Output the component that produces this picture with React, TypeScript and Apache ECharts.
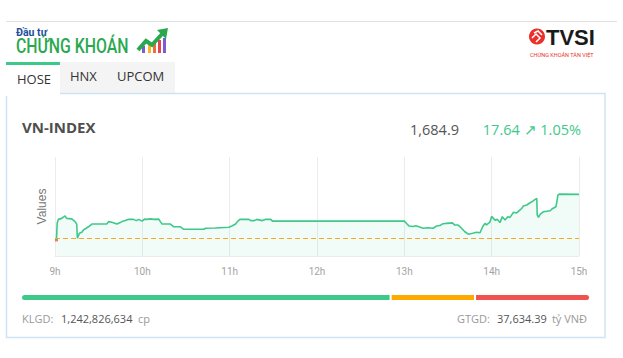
import React, { useEffect, useRef } from 'react';
import * as echarts from 'echarts';

const indexName = 'VN-INDEX';
const lastValueText = '1,684.9';
const changeText = '17.64 ↗ 1.05%';
const referenceValue = 1667.26;
const hourLabels = ['9h', '10h', '11h', '12h', '13h', '14h', '15h'];
const tabs = ['HOSE', 'HNX', 'UPCOM'];
const volumeText = '1,242,826,634';
const tradeValueText = '37,634.39';

// minutes since 9:00
const minutes = [
  1, 1.5, 2.3, 4.6, 6.9, 8, 11.5, 13.8, 14.9, 15.4, 16.8, 18.4, 19.5, 21.4, 23, 25.3, 30, 35.6, 36.8, 39.1,
  42.5, 44.8, 46, 48.3, 50.6, 54, 55.9, 57.5, 59.8, 61.4, 63.2, 65.5, 68, 71.3, 72.4, 73.6, 79.3, 81.6, 86.2,
  88.5, 95, 102.3, 103.4, 110, 119.5, 121.8, 124.1, 125.3, 127.1, 133.3, 134.5, 137, 138.6, 142.5, 144.8,
  148.3, 149.4, 150, 240,
  241.9, 243.4, 246, 248, 250, 252.9, 256, 259.8, 262, 264.4, 266, 269, 273, 274.7, 277, 279.3, 281.6, 284,
  286.9, 289.7, 292, 293.8, 295.4, 296.5, 298.8, 300, 302.3, 304, 305.7, 307.3, 309.2, 311, 312.6, 315,
  317.2, 319.5, 320.7, 321.8, 324.1, 326.4, 327.6, 329.9, 331, 331.3, 332.2, 333.3, 335.6, 340.2, 341.4,
  344.1, 344.8, 345.5, 346.4, 360,
];
const indexValues = [
  1666.5, 1673.3, 1674.8, 1675.2, 1676.2, 1675.2, 1675.0, 1673.9, 1672.9, 1667.2, 1669.2, 1669.6, 1670.5,
  1671.2, 1671.8, 1672.9, 1672.9, 1672.9, 1673.9, 1673.6, 1672.9, 1673.5, 1673.9, 1674.3, 1674.8, 1674.8,
  1674.3, 1674.8, 1674.1, 1674.9, 1674.8, 1675.0, 1674.8, 1674.9, 1673.9, 1672.9, 1672.9, 1671.8, 1671.8,
  1670.8, 1670.8, 1670.8, 1671.2, 1671.3, 1671.6, 1672.2, 1672.9, 1673.9, 1674.8, 1674.8, 1674.3, 1674.3,
  1674.8, 1674.3, 1674.8, 1674.8, 1674.1, 1674.1, 1674.1,
  1672.9, 1672.1, 1671.9, 1672.2, 1671.8, 1671.2, 1671.4, 1671.2, 1672.1, 1672.3, 1672.9, 1673.2, 1673.4,
  1672.5, 1672.5, 1671.2, 1669.8, 1668.8, 1669.2, 1669.6, 1669.4, 1671.8, 1673.2, 1672.6, 1673.7, 1676.0,
  1674.5, 1674.8, 1673.5, 1675.9, 1674.5, 1675.9, 1675.6, 1677.7, 1677.4, 1678.6, 1679.3, 1680.2, 1680.6,
  1681.5, 1681.9, 1682.9, 1683.3, 1676.6, 1675.6, 1676.8, 1677.9, 1678.3, 1679.0, 1679.9, 1681.9, 1684.6,
  1685.0, 1684.9,
];

const breadthLabels = ['Tăng', 'Tham chiếu', 'Giảm'];
const breadthCounts = [262, 60, 81];
const breadthColors = ['#3ec98a', '#ffaa00', '#f05252'];

const GREEN = '#3ec98a';
const FONT = '"Open Sans", "Noto Sans", sans-serif';

export default function App() {
  const ref = useRef<HTMLDivElement>(null);

  useEffect(() => {
    document.body.style.margin = '0';
    if (!ref.current) return;
    const chart = echarts.init(ref.current, undefined, { renderer: 'svg' });

    const total = breadthCounts.reduce((a, b) => a + b, 0);
    let acc = 0;
    const breadthData = breadthCounts.map((c, i) => {
      const item = { name: breadthLabels[i], value: [acc, acc + c, i] };
      acc += c;
      return item;
    });

    const graphic: any[] = [
      { type: 'line', shape: { x1: 6, y1: 21.5, x2: 617, y2: 21.5 }, style: { stroke: '#e2e2e2', lineWidth: 1 } },
      // Logo
      { type: 'text', x: 16, y: 32, style: { text: 'Đầu tư', fill: '#1d4f9c', font: `bold 10.5px Roboto`, verticalAlign: 'middle' } },
      { type: 'text', x: 16, y: 46, scaleX: 0.755, style: { text: 'CHỨNG KHOÁN', fill: '#2aa84f', font: `500 21px Roboto`, verticalAlign: 'middle' } },
      { type: 'rect', shape: { x: 142, y: 46, width: 3, height: 7 }, style: { fill: '#7d5bd0' } },
      { type: 'rect', shape: { x: 148, y: 44, width: 3, height: 9 }, style: { fill: '#f7b52c' } },
      { type: 'rect', shape: { x: 153, y: 42, width: 3, height: 11 }, style: { fill: '#f26b3a' } },
      { type: 'rect', shape: { x: 158, y: 40, width: 3, height: 13 }, style: { fill: '#e9434b' } },
      { type: 'rect', shape: { x: 163, y: 38, width: 3, height: 15 }, style: { fill: '#7d5bd0' } },
      { type: 'polyline', shape: { points: [[138, 50], [146, 41], [152, 45], [163, 33]] }, style: { stroke: '#2aa84f', lineWidth: 4, fill: null } },
      { type: 'polygon', shape: { points: [[157, 30], [168, 28], [166, 39]] }, style: { fill: '#2aa84f' } },
      // TVSI
      { type: 'circle', shape: { cx: 537, cy: 36.5, r: 8 }, style: { fill: '#e8312a' } },
      { type: 'polyline', shape: { points: [[532, 38], [536, 34], [540, 38], [536, 42]] }, style: { stroke: '#fff', lineWidth: 1.5, fill: null } },
      { type: 'polyline', shape: { points: [[534, 33], [538, 31], [542, 35]] }, style: { stroke: '#fff', lineWidth: 1.5, fill: null } },
      { type: 'text', x: 546, y: 37, style: { text: 'TVSI', fill: '#1a1a1a', font: `bold 22px "Liberation Sans"`, verticalAlign: 'middle' } },
      { type: 'text', x: 530, y: 55, style: { text: 'CHỨNG KHOÁN TÂN VIỆT', fill: '#e8312a', font: `5.5px Roboto`, verticalAlign: 'middle' } },
      // Tabs
      { type: 'rect', shape: { x: 60, y: 62, width: 115, height: 31 }, style: { fill: '#f4f4f4' } },
      { type: 'rect', shape: { x: 6, y: 62, width: 54, height: 3 }, style: { fill: GREEN } },
      { type: 'text', x: 17, y: 79, style: { text: tabs[0], fill: '#333', font: `13px ${FONT}`, verticalAlign: 'middle' } },
      { type: 'text', x: 70, y: 76, style: { text: tabs[1], fill: '#333', font: `13px ${FONT}`, verticalAlign: 'middle' } },
      { type: 'text', x: 117, y: 76, style: { text: tabs[2], fill: '#333', font: `13px ${FONT}`, verticalAlign: 'middle' } },
      // Card border
      { type: 'polyline', shape: { points: [[60, 93.5], [605, 93.5], [605, 337.5], [6.5, 337.5], [6.5, 96]] }, style: { stroke: '#cfe3f8', lineWidth: 1.5, fill: null } },
      // Header texts
      { type: 'text', x: 22, y: 127, style: { text: indexName, fill: '#4f4f4f', font: `bold 15px ${FONT}`, verticalAlign: 'middle' } },
      { type: 'text', x: 459, y: 129, style: { text: lastValueText, fill: '#555', font: `14.5px ${FONT}`, align: 'right', verticalAlign: 'middle' } },
      { type: 'text', x: 581, y: 129, style: { text: changeText, fill: GREEN, font: `14.5px ${FONT}`, align: 'right', verticalAlign: 'middle' } },
      // Footer texts
      { type: 'text', x: 22, y: 318, style: { text: 'KLGD:', fill: '#999', font: `11px ${FONT}`, verticalAlign: 'middle' } },
      { type: 'text', x: 61, y: 318, style: { text: volumeText, fill: '#555', font: `11px ${FONT}`, verticalAlign: 'middle' } },
      { type: 'text', x: 138, y: 318, style: { text: 'cp', fill: '#999', font: `11px ${FONT}`, verticalAlign: 'middle' } },
      { type: 'text', x: 457, y: 318, style: { text: 'GTGD:', fill: '#999', font: `11px ${FONT}`, verticalAlign: 'middle' } },
      { type: 'text', x: 497, y: 318, style: { text: tradeValueText, fill: '#555', font: `11px ${FONT}`, verticalAlign: 'middle' } },
      { type: 'text', x: 587, y: 318, style: { text: 'tỷ VNĐ', fill: '#999', font: `11px ${FONT}`, align: 'right', verticalAlign: 'middle' } },
    ];

    const option: any = {
      animation: false,
      backgroundColor: '#fff',
      graphic,
      grid: [
        { left: 55, right: 44, top: 157, bottom: 102 },
        { left: 22, width: 567, top: 295, height: 5 },
      ],
      xAxis: [
        {
          type: 'value', gridIndex: 0, min: 0, max: 360, interval: 60,
          axisLine: { show: true, lineStyle: { color: '#ececec' } },
          axisTick: { show: false },
          axisLabel: {
            color: '#a3a3a3', fontSize: 10, margin: 10, fontFamily: 'Roboto',
            formatter: (v: number) => hourLabels[Math.round(v / 60)] ?? '',
          },
          splitLine: { show: true, lineStyle: { color: '#ececec' } },
        },
        { type: 'value', gridIndex: 1, min: 0, max: total, show: false },
      ],
      yAxis: [
        {
          type: 'value', gridIndex: 0, min: 1660, max: 1700,
          name: 'Values', nameLocation: 'middle', nameGap: 7,
          nameTextStyle: { color: '#777', fontSize: 12, fontFamily: '"Liberation Sans"' },
          axisLine: { show: false }, axisTick: { show: false }, axisLabel: { show: false },
          splitLine: { show: false },
        },
        { type: 'value', gridIndex: 1, min: -1, max: 1, show: false },
      ],
      series: [
        {
          type: 'line', xAxisIndex: 0, yAxisIndex: 0,
          data: minutes.map((m, i) => [m, indexValues[i]]),
          showSymbol: false, symbol: 'none',
          lineStyle: { color: GREEN, width: 1.6 },
          areaStyle: { color: 'rgba(62,201,138,0.1)', origin: 'start' },
          markLine: {
            silent: true, symbol: 'none', label: { show: false },
            lineStyle: { color: '#f5a623', type: [5, 3], width: 1 },
            data: [{ yAxis: referenceValue }],
          },
        },
        {
          type: 'scatter', xAxisIndex: 0, yAxisIndex: 0,
          data: [[minutes[0], indexValues[0]]],
          symbol: 'rect', symbolSize: 3, itemStyle: { color: '#f05252' },
        },
        {
          type: 'custom', xAxisIndex: 1, yAxisIndex: 1,
          data: breadthData,
          encode: { x: [0, 1] },
          renderItem: (params: any, api: any) => {
            const s = api.value(0);
            const e = api.value(1);
            const i = api.value(2);
            const p0 = api.coord([s, 0]);
            const p1 = api.coord([e, 0]);
            const n = breadthCounts.length;
            const left = p0[0] + (i > 0 ? 1 : 0);
            const right = p1[0] - (i < n - 1 ? 1 : 0);
            const r = i === 0 ? [2.5, 0, 0, 2.5] : i === n - 1 ? [0, 2.5, 2.5, 0] : 0;
            return {
              type: 'rect',
              shape: { x: left, y: p0[1] - 2.5, width: right - left, height: 5, r },
              style: { fill: breadthColors[i] },
            };
          },
        },
      ],
    };
    chart.setOption(option);
    return () => chart.dispose();
  }, []);

  return <div ref={ref} style={{ width: 623, height: 358 }} />;
}
